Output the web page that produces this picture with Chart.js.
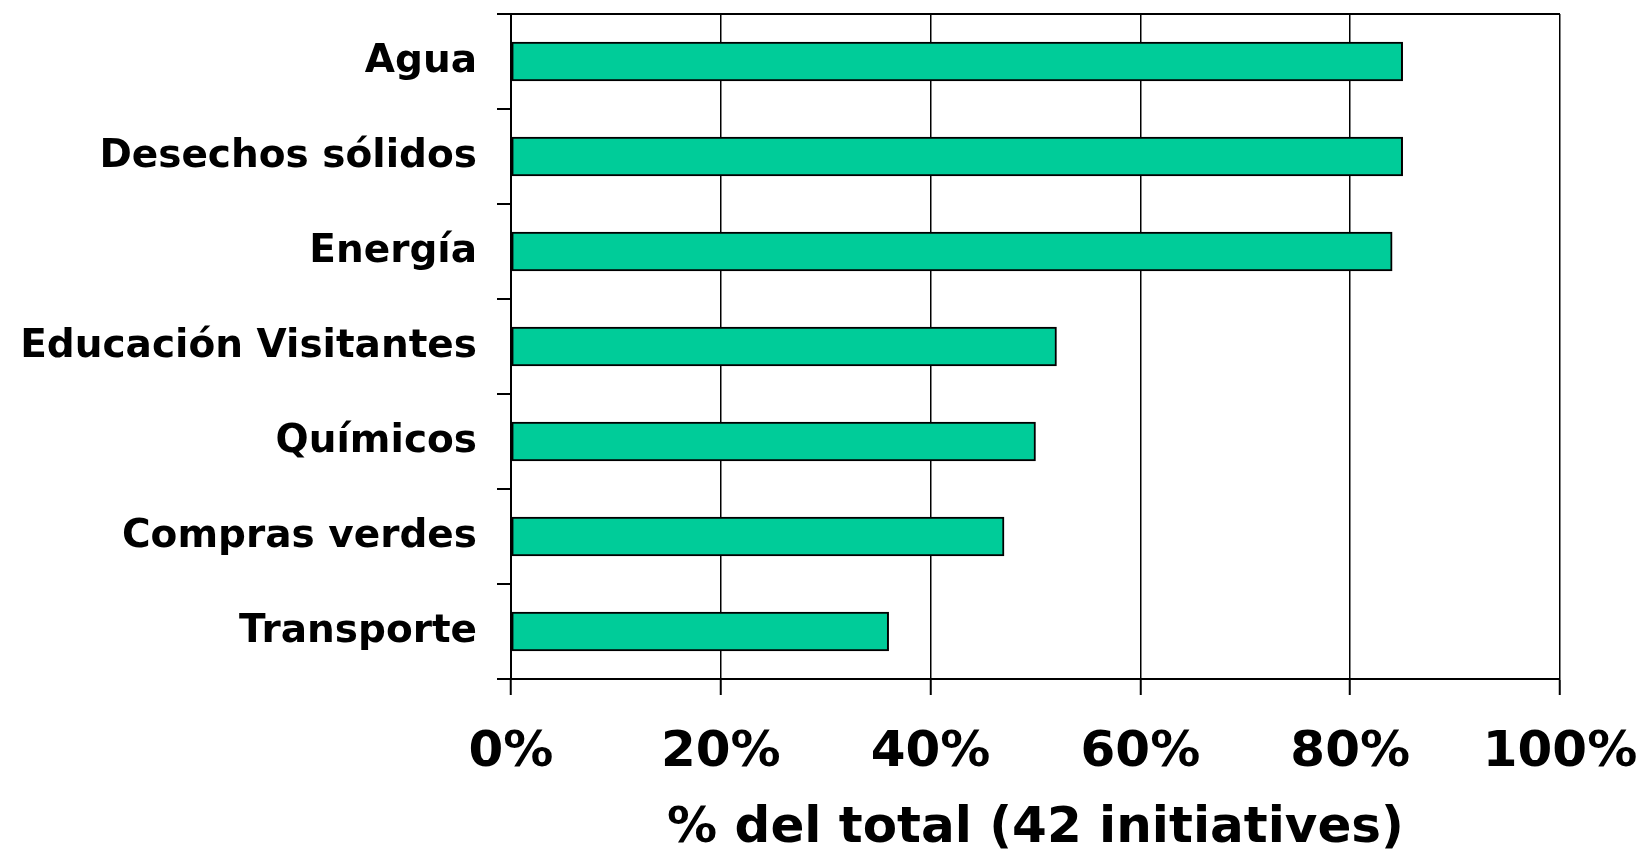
<!DOCTYPE html>
<html>
<head>
<meta charset="utf-8">
<script src="https://cdn.jsdelivr.net/npm/chart.js@4.4.1/dist/chart.umd.min.js"></script>
<style>
  html, body { margin: 0; padding: 0; background: #fff; }
  #wrap { width: 1646px; height: 856px; }
</style>
</head>
<body>
<div id="wrap"><canvas id="barChart" width="1646" height="856"></canvas></div>
<script>
// categorias y porcentajes
var categorias = ['Agua', 'Desechos sólidos', 'Energía', 'Educación Visitantes', 'Químicos', 'Compras verdes', 'Transporte'];
var porcentajes = [85, 85, 84, 52, 50, 47, 36];
var tituloEje = '% del total (42 initiatives)';

var ctx = document.getElementById('barChart').getContext('2d');
var myChart = new Chart(ctx, {
    type: 'bar',
    data: {
        labels: categorias,
        datasets: [{
            data: porcentajes,
            backgroundColor: '#00CC99',
            borderColor: '#000000',
            borderWidth: 2,
            borderSkipped: false,
            barThickness: 39
        }]
    },
    options: {
        indexAxis: 'y',
        responsive: false,
        animation: false,
        layout: { padding: { top: 14, right: 86, bottom: 0, left: 0 } },
        plugins: { legend: { display: false }, tooltip: { enabled: false } },
        scales: {
            x: {
                min: 0,
                max: 100,
                ticks: {
                    stepSize: 20,
                    color: '#000',
                    padding: 28,
                    maxRotation: 0,
                    font: { family: 'DejaVu Sans', weight: 'bold', size: 50 },
                    callback: function (v) { return v + '%'; }
                },
                grid: { color: '#000', lineWidth: 1.5, tickLength: 16, tickColor: '#000', tickWidth: 2 },
                border: { color: '#000', width: 2 },
                title: {
                    display: true,
                    text: tituloEje,
                    color: '#000',
                    padding: { top: 0, bottom: -3 },
                    font: { family: 'DejaVu Sans', weight: 'bold', size: 50 }
                },
                afterFit: function (s) {
                    s.height = 856 - 679;
                    s.paddingLeft = 0;
                    s.paddingRight = 0;
                }
            },
            y: {
                offset: true,
                ticks: {
                    color: '#000',
                    padding: 20,
                    font: { family: 'DejaVu Sans', weight: 'bold', size: 39 }
                },
                grid: {
                    offset: true,
                    tickLength: 14,
                    tickColor: '#000',
                    tickWidth: 2,
                    lineWidth: 2,
                    color: function (c) { return c.index === 0 ? '#000' : 'rgba(0,0,0,0)'; }
                },
                border: { color: '#000', width: 2 },
                afterFit: function (s) {
                    s.width = 511;
                    s.paddingTop = 0;
                    s.paddingBottom = 0;
                }
            }
        }
    }
});
</script>
</body>
</html>
